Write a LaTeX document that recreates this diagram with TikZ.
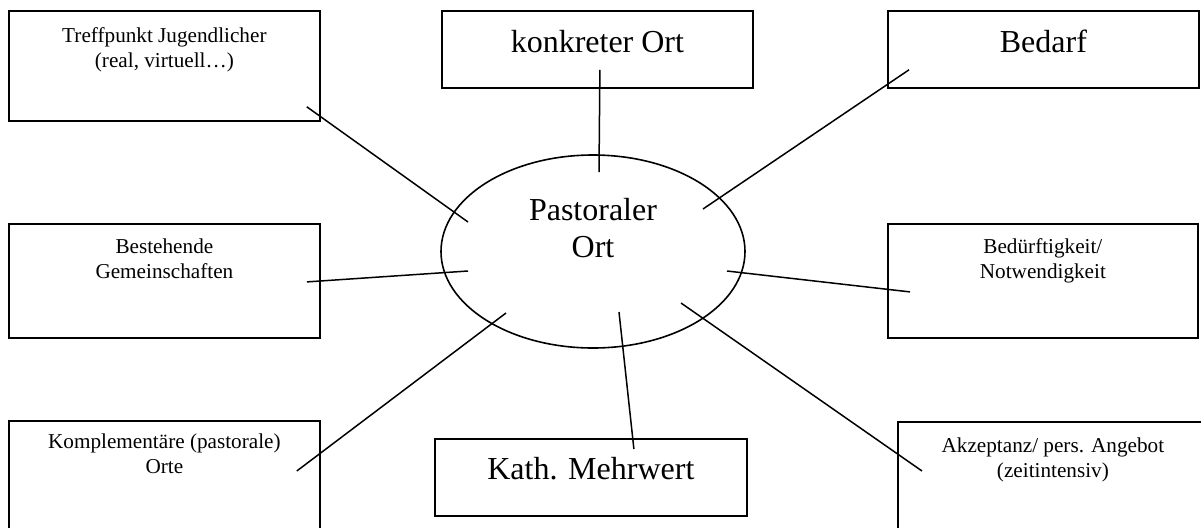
\documentclass[tikz,border=0pt]{standalone}
\usepackage{fontspec}
\setmainfont{Liberation Serif}
\usetikzlibrary{shapes.geometric}
\newcommand\smallfnt{\fontsize{10.6}{12.5}\selectfont}
\newcommand\bigfnt{\fontsize{16}{18.5}\selectfont}
\newcommand\boxtext[4]{\parbox[t][#2][t]{#1}{\centering\rule{0pt}{#3}#4}}
\tikzset{
  framebox/.style={draw, line width=0.9pt, inner sep=0pt, anchor=north west},
  link/.style={draw, line width=0.75pt},
  hub/.style={draw, ellipse, line width=0.8pt, inner sep=0pt, minimum width=152pt, minimum height=96.5pt}
}
\begin{document}
\begin{tikzpicture}[x=0.5pt, y=-0.5pt]
\useasboundingbox (0,0) rectangle (1201,527);
\clip (0,0) rectangle (1201,527);
% central ellipse
\node[hub] (past) at (593,251.5) {\bigfnt\boxtext{100pt}{60pt}{14.25pt}{Pastoraler\\Ort}};
% boxes
\node[framebox] (treff) at (8,10) {\smallfnt\boxtext{155.5pt}{55pt}{16pt}{Treffpunkt Jugendlicher\\(real, virtuell\dots)}};
\node[framebox] (konk) at (441,10) {\bigfnt\boxtext{155.5pt}{38.5pt}{21pt}{konkreter Ort}};
\node[framebox] (bedarf) at (887,10) {\bigfnt\boxtext{155.5pt}{38.5pt}{21pt}{Bedarf}};
\node[framebox] (best) at (8,223) {\smallfnt\boxtext{155.5pt}{57pt}{15pt}{Bestehende\\Gemeinschaften}};
\node[framebox] (bedue) at (887,223) {\smallfnt\boxtext{155pt}{57pt}{15pt}{Bedürftigkeit/\\Notwendigkeit}};
\node[framebox] (kompl) at (8,420) {\smallfnt\boxtext{155.5pt}{60pt}{14pt}{Komplementäre (pastorale)\\Orte}};
\node[framebox] (kath) at (434,438) {\bigfnt\boxtext{156pt}{38.5pt}{20.5pt}{Kath. Mehrwert}};
\node[framebox] (akz) at (897,421) {\smallfnt\boxtext{155pt}{60pt}{15.5pt}{Akzeptanz/ pers. Angebot\\(zeitintensiv)}};
% connectors
\draw[link] ([shift={(-14,-15)}]treff.south east) -- ([shift={(-125,-29.5)}]past.center);
\draw[link] ([shift={(2.5,-19)}]konk.south) -- ([shift={(6,-79.5)}]past.center);
\draw[link] ([shift={(22,-19)}]bedarf.south west) -- ([shift={(110,-42.5)}]past.center);
\draw[link] ([shift={(-14,1)}]best.east) -- ([shift={(-125,19.5)}]past.center);
\draw[link] ([shift={(23,11)}]bedue.west) -- ([shift={(134,19.5)}]past.center);
\draw[link] ([shift={(-24,51)}]kompl.north east) -- ([shift={(-87,61.5)}]past.center);
\draw[link] ([shift={(43,11)}]kath.north) -- ([shift={(26,60.5)}]past.center);
\draw[link] ([shift={(25,50)}]akz.north west) -- ([shift={(88,51.5)}]past.center);
\end{tikzpicture}
\end{document}
